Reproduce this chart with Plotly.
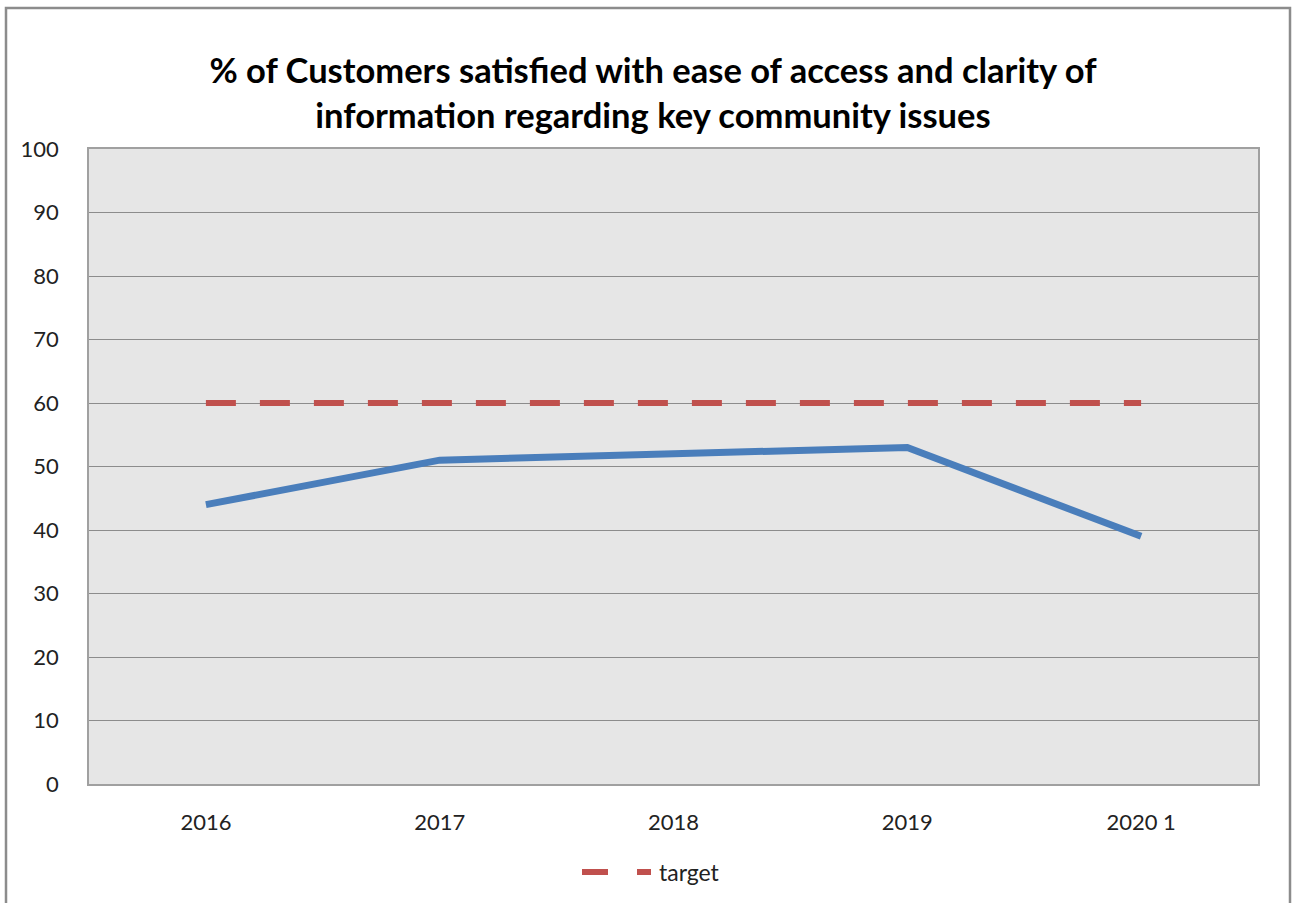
import plotly.graph_objects as go

categories = ["2016", "2017", "2018", "2019", "2020 1"]
satisfied = [44, 51, 52, 53, 39]
target = [60, 60, 60, 60, 60]
y_ticks = [0, 10, 20, 30, 40, 50, 60, 70, 80, 90, 100]

FONT = "Lato, 'Open Sans', sans-serif"
TARGET_COLOR = "#c0504d"

fig = go.Figure()
fig.add_trace(go.Scatter(
    x=categories, y=satisfied, mode="lines", name="satisfied",
    line=dict(color="#4a7ebb", width=7), showlegend=False,
))
fig.add_trace(go.Scatter(
    x=categories, y=target, mode="lines", name="target",
    line=dict(color=TARGET_COLOR, width=6, dash="30px,24px"), showlegend=False,
))

L, R, T, B = 89, 35, 149, 119
W, H = 1293, 903
pw, ph = W - L - R, H - T - B

def px_x(x):
    return (x - L) / pw

def px_y(y):
    return (H - B - y) / ph

legend_y = 872
shapes = [
    dict(type="rect", xref="paper", yref="paper",
         x0=px_x(6), x1=px_x(1290), y0=px_y(H + 5), y1=px_y(8),
         line=dict(color="#8c8c8c", width=2.5), layer="below"),
    dict(type="line", xref="paper", yref="paper",
         x0=px_x(582), x1=px_x(608), y0=px_y(legend_y), y1=px_y(legend_y),
         line=dict(color=TARGET_COLOR, width=6)),
    dict(type="line", xref="paper", yref="paper",
         x0=px_x(637), x1=px_x(651), y0=px_y(legend_y), y1=px_y(legend_y),
         line=dict(color=TARGET_COLOR, width=6)),
]

fig.update_layout(
    width=W, height=H,
    margin=dict(l=L, r=R, t=T, b=B),
    paper_bgcolor="white",
    plot_bgcolor="#e6e6e6",
    showlegend=False,
    font=dict(family=FONT, size=22, color="#222222"),
    title=dict(
        text="<b>% of Customers satisfied with ease of access and clarity of<br>information regarding key community issues</b>",
        x=(653 / W), xanchor="center", xref="container", y=1 - 83 / H, yanchor="middle",
        font=dict(family=FONT, size=34.5, color="#000000"),
    ),
    xaxis=dict(
        type="category", categoryorder="array", categoryarray=categories,
        range=[-0.5, 4.5], showgrid=False, showline=True, linecolor="#a0a0a0",
        linewidth=1.5, mirror=True, ticks="", ticklabelstandoff=18,
        tickfont=dict(size=22, color="#222222"),
    ),
    yaxis=dict(
        range=[0, 100], tickvals=y_ticks, showgrid=True, gridcolor="#8c8c8c",
        gridwidth=1, showline=True, linecolor="#a0a0a0", linewidth=1.5,
        mirror=True, ticks="", ticklabelstandoff=24, zeroline=False,
        tickfont=dict(size=22, color="#222222"),
    ),
    annotations=[dict(
        text="target", xref="paper", yref="paper", x=px_x(657), y=px_y(legend_y),
        xanchor="left", yanchor="middle", showarrow=False,
        font=dict(family=FONT, size=23, color="#222222"),
    )],
    shapes=shapes,
)

fig.write_html("out.html", config={"displayModeBar": False},
               post_script="document.body.style.margin='0';")
